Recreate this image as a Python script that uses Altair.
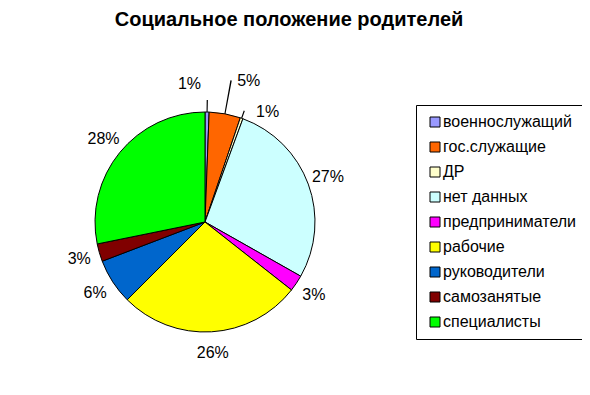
import altair as alt
import pandas as pd

categories = ["военнослужащий", "гос.служащие", "ДР", "нет данных", "предприниматели",
              "рабочие", "руководители", "самозанятые", "специалисты"]
values = [0.6, 4.6, 0.4, 27.6, 2.4, 26.9, 6.7, 2.6, 28.2]
labels = ["1%", "5%", "1%", "27%", "3%", "26%", "6%", "3%", "28%"]
colors = ["#9999FF", "#FF6600", "#FFFFCC", "#CCFFFF", "#FF00FF",
          "#FFFF00", "#0066CC", "#800000", "#00FF00"]

df = pd.DataFrame({"cat": categories, "value": values, "label": labels,
                   "idx": list(range(len(categories)))})

TOP = 36
CX, CY, R = 197, 222 - 8 - TOP, 110
FONT = "Liberation Sans"
tscale = alt.Scale(domain=[0, 100], range=[0, 6.283185307179586])

base = (alt.Chart(df)
        .transform_window(cum="sum(value)", sort=[alt.SortField("idx")], frame=[None, 0])
        .transform_calculate(start="datum.cum - datum.value",
                             mid="datum.cum - datum.value / 2",
                             m1="datum.cum - datum.value / 2 - 0.08",
                             m2="datum.cum - datum.value / 2 + 0.08"))

pie = base.mark_arc(radius=R, stroke="black", strokeWidth=1).encode(
    theta=alt.Theta("start:Q", scale=tscale),
    theta2="cum:Q",
    x=alt.value(CX), y=alt.value(CY),
    color=alt.Color("cat:N", scale=alt.Scale(domain=categories, range=colors),
                    legend=alt.Legend(title=None, orient="none", legendX=408,
                                      legendY=105 - 8 - TOP,
                                      strokeColor="black", fillColor="white", padding=9,
                                      symbolType="square", symbolSize=100, symbolOffset=2,
                                      symbolStrokeColor="black", symbolStrokeWidth=1,
                                      symbolOpacity=1, labelFont=FONT, labelFontSize=16,
                                      labelColor="black", rowPadding=9, labelOffset=0,
                                      labelLimit=300, cornerRadius=0)),
    order=alt.Order("idx:Q"),
)

small = {"военнослужащий": dict(dx=-18, dy=-7, r2=122),
         "гос.служащие": dict(dx=20, dy=-12, r2=144),
         "ДР": dict(dx=19, dy=14, r2=118)}

texts = base.transform_filter(
    "indexof(['военнослужащий','гос.служащие','ДР'], datum.cat) < 0"
).mark_text(radius=131, fontSize=16, font=FONT, color="black").encode(
    theta=alt.Theta("mid:Q", scale=tscale), x=alt.value(CX), y=alt.value(CY),
    text="label:N")

layers = [pie, texts]
for name, st in small.items():
    sub = base.transform_filter(alt.datum.cat == name)
    layers.append(sub.mark_arc(radius=st["r2"], radius2=R, color="black").encode(
        theta=alt.Theta("m1:Q", scale=tscale), theta2="m2:Q",
        x=alt.value(CX), y=alt.value(CY)))
    layers.append(sub.mark_text(radius=131, dx=st["dx"], dy=st["dy"], fontSize=16,
                                font=FONT, color="black").encode(
        theta=alt.Theta("mid:Q", scale=tscale), x=alt.value(CX), y=alt.value(CY),
        text="label:N"))

chart = alt.layer(*layers).properties(
    width=574, height=340,
    autosize=alt.AutoSizeParams(type="none"),
    padding={"left": 0, "top": TOP, "right": 0, "bottom": 0},
    title=alt.Title("Социальное положение родителей", font=FONT, fontSize=20,
                    fontWeight="bold", color="black", offset=14, dx=-6),
).configure_view(stroke=None)

chart.save("out.html", embed_options={"renderer": "svg", "actions": False})
